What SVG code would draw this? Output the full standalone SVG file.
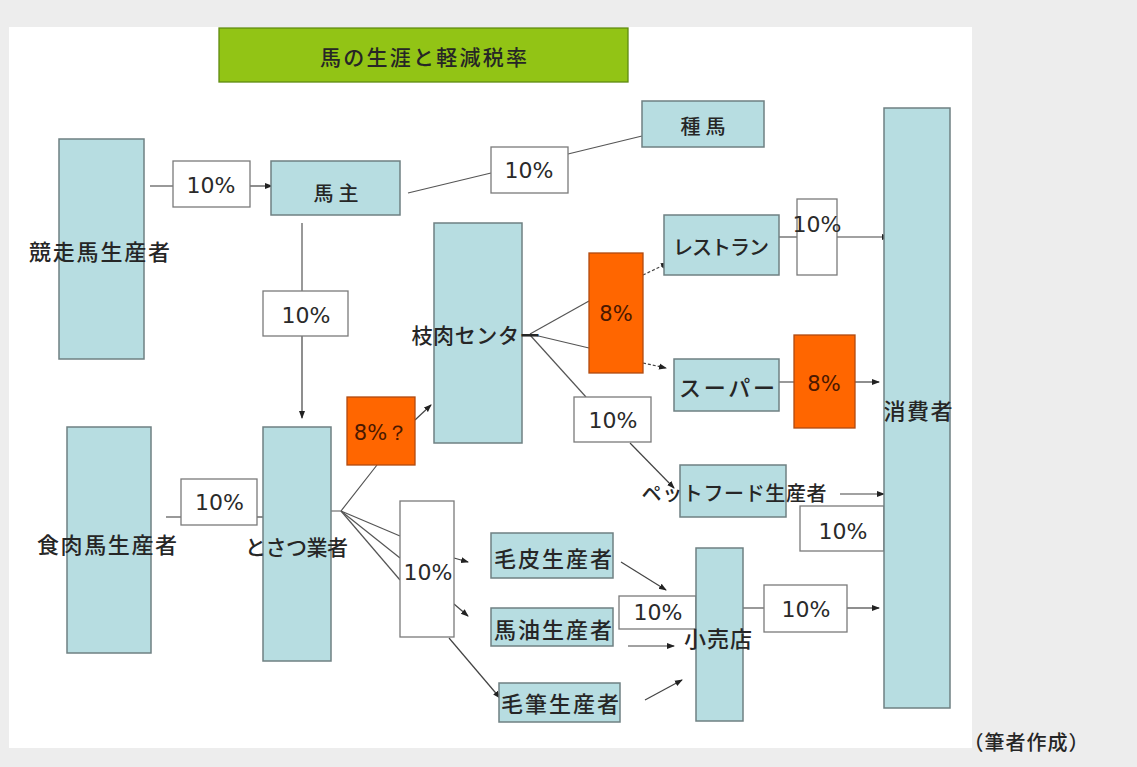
<svg xmlns="http://www.w3.org/2000/svg" width="1137" height="767" viewBox="0 0 1137 767">
<style>
.bg{fill:#ededed}
.panel{fill:#ffffff}
.node{fill:#b7dde1;stroke:#6f8082;stroke-width:1.5}
.pct{fill:#ffffff;stroke:#7a7a7a;stroke-width:1.3}
.org{fill:#ff6600;stroke:#b04a10;stroke-width:1.3}
.title{fill:#92c415;stroke:#5f8a10;stroke-width:1.3}
.jp{font-family:"Noto Sans CJK JP","Noto Sans CJK SC",sans-serif;font-weight:500;fill:#262626;dominant-baseline:central;text-anchor:middle}
.num{font-family:"DejaVu Sans","Liberation Sans",sans-serif;font-size:22px;fill:#2a2a2a;text-anchor:middle}
.onum{font-family:"DejaVu Sans","Liberation Sans",sans-serif;font-size:21px;fill:#4a1800;text-anchor:middle}
.ln{stroke:#555555;stroke-width:1.2;fill:none}
.arr{stroke:#444444;stroke-width:1.2;fill:none;marker-end:url(#ah)}
.dash{stroke-dasharray:3 2}
</style>
<defs>
<marker id="ah" markerUnits="userSpaceOnUse" markerWidth="8" markerHeight="8" viewBox="0 0 8 8" refX="7" refY="4" orient="auto">
<path d="M0,1 L8,4 L0,7 Z" fill="#222222"/>
</marker>
</defs>
<rect class="bg" x="0" y="0" width="1137" height="767"/>
<rect class="panel" x="9" y="27" width="963" height="721"/>

<g id="title">
<rect class="title" x="219" y="28" width="409" height="54"/>
<text class="jp" x="423.5" y="56" font-size="21" textLength="207" lengthAdjust="spacing">馬の生涯と軽減税率</text>
</g>

<g id="connectors">
<line class="ln" x1="150" y1="186" x2="173" y2="186"/>
<line class="arr" x1="250" y1="186" x2="272" y2="186"/>
<line class="ln" x1="408" y1="193" x2="491" y2="173"/>
<line class="ln" x1="568" y1="154" x2="642" y2="136"/>
<line class="ln" x1="302" y1="223" x2="302" y2="291"/>
<line class="arr" x1="302" y1="336" x2="302" y2="418"/>
<line class="ln" x1="166" y1="517" x2="181" y2="517"/>
<line class="arr" x1="257" y1="517" x2="288" y2="517"/>
<polyline class="ln" points="331,511 341,511 377,465"/>
<line class="arr" x1="415" y1="420" x2="431" y2="405"/>
<line class="ln" x1="341" y1="511" x2="400" y2="536"/>
<line class="ln" x1="341" y1="511" x2="400" y2="558"/>
<line class="ln" x1="341" y1="511" x2="400" y2="580"/>
<line class="arr" x1="454" y1="558" x2="468" y2="562"/>
<line class="arr" x1="454" y1="604" x2="468" y2="616"/>
<line class="arr" x1="449" y1="638" x2="500" y2="698"/>
<line class="ln" x1="530" y1="334" x2="589" y2="301"/>
<line class="ln" x1="530" y1="334" x2="589" y2="348"/>
<line class="ln" x1="530" y1="335" x2="586" y2="397"/>
<line class="arr dash" x1="643" y1="275" x2="668" y2="263"/>
<line class="arr dash" x1="643" y1="363" x2="666" y2="368"/>
<line class="ln" x1="779" y1="237" x2="797" y2="237"/>
<line class="arr" x1="837" y1="237" x2="889" y2="237"/>
<line class="ln" x1="776" y1="382" x2="794" y2="382"/>
<line class="arr" x1="855" y1="382" x2="879" y2="382"/>
<line class="arr" x1="630" y1="443" x2="674" y2="488"/>
<line class="arr" x1="840" y1="494" x2="884" y2="494"/>
<line class="arr" x1="621" y1="562" x2="666" y2="590"/>
<line class="arr" x1="628" y1="646" x2="674" y2="646"/>
<line class="arr" x1="645" y1="700" x2="682" y2="680"/>
<line class="ln" x1="743" y1="608" x2="764" y2="608"/>
<line class="arr" x1="847" y1="608" x2="879" y2="608"/>
</g>

<g id="n-keisouba">
<rect class="node" x="59" y="139" width="85" height="220"/>
<text class="jp" x="99.5" y="250" font-size="22" textLength="141" lengthAdjust="spacing">競走馬生産者</text>
</g>
<g id="p1">
<rect class="pct" x="173" y="161" width="77" height="46"/>
<text class="num" x="211" y="193">10%</text>
</g>
<g id="n-banushi">
<rect class="node" x="271" y="161" width="129" height="54"/>
<text class="jp" x="336" y="192" font-size="20" textLength="45" lengthAdjust="spacing">馬主</text>
</g>
<g id="p2">
<rect class="pct" x="491" y="147" width="77" height="46"/>
<text class="num" x="529" y="178">10%</text>
</g>
<g id="n-shuba">
<rect class="node" x="642" y="101" width="122" height="46"/>
<text class="jp" x="703" y="125" font-size="20" textLength="45" lengthAdjust="spacing">種馬</text>
</g>
<g id="p3">
<rect class="pct" x="263" y="291" width="85" height="45"/>
<text class="num" x="306" y="323">10%</text>
</g>
<g id="n-shokuniku">
<rect class="node" x="67" y="427" width="84" height="226"/>
<text class="jp" x="107" y="543" font-size="22" textLength="140" lengthAdjust="spacing">食肉馬生産者</text>
</g>
<g id="p4">
<rect class="pct" x="181" y="479" width="76" height="46"/>
<text class="num" x="219.5" y="510">10%</text>
</g>
<g id="n-tosatsu">
<rect class="node" x="263" y="427" width="68" height="234"/>
<text class="jp" x="296.5" y="546" font-size="21" textLength="103" lengthAdjust="spacing">とさつ業者</text>
</g>
<g id="o1">
<rect class="org" x="347" y="397" width="68" height="68"/>
<text class="onum" x="381" y="440">8%？</text>
</g>
<g id="n-edaniku">
<rect class="node" x="434" y="223" width="88" height="220"/>
<text class="jp" x="476" y="334" font-size="21" textLength="129" lengthAdjust="spacing">枝肉センター</text>
</g>
<g id="p5">
<rect class="pct" x="400" y="501" width="54" height="136"/>
<text class="num" x="428" y="580">10%</text>
</g>
<g id="o2">
<rect class="org" x="589" y="253" width="54" height="120"/>
<text class="onum" x="616" y="321">8%</text>
</g>
<g id="n-restaurant">
<rect class="node" x="664" y="215" width="115" height="60"/>
<text class="jp" x="721" y="246" font-size="20" textLength="96" lengthAdjust="spacing">レストラン</text>
</g>
<g id="p7">
<rect class="pct" x="797" y="199" width="40" height="76"/>
<text class="num" x="817" y="232">10%</text>
</g>
<g id="n-super">
<rect class="node" x="674" y="359" width="105" height="52"/>
<text class="jp" x="727" y="386" font-size="22" textLength="96" lengthAdjust="spacing">スーパー</text>
</g>
<g id="o3">
<rect class="org" x="794" y="335" width="61" height="93"/>
<text class="onum" x="824" y="391">8%</text>
</g>
<g id="p6">
<rect class="pct" x="574" y="397" width="77" height="45"/>
<text class="num" x="613" y="428">10%</text>
</g>
<g id="n-petfood">
<rect class="node" x="680" y="465" width="106" height="52"/>
<text class="jp" x="734" y="492" font-size="20" textLength="185" lengthAdjust="spacing">ペットフード生産者</text>
</g>
<g id="p8">
<rect class="pct" x="800" y="506" width="84" height="45"/>
<text class="num" x="843" y="539">10%</text>
</g>
<g id="n-shouhisha">
<rect class="node" x="884" y="108" width="66" height="600"/>
<text class="jp" x="918" y="409" font-size="22" textLength="69" lengthAdjust="spacing">消費者</text>
</g>
<g id="n-kegawa">
<rect class="node" x="491" y="533" width="122" height="45"/>
<text class="jp" x="553" y="557" font-size="22" textLength="118" lengthAdjust="spacing">毛皮生産者</text>
</g>
<g id="n-bayu">
<rect class="node" x="491" y="608" width="122" height="38"/>
<text class="jp" x="553" y="628" font-size="22" textLength="118" lengthAdjust="spacing">馬油生産者</text>
</g>
<g id="n-kefude">
<rect class="node" x="499" y="683" width="121" height="39"/>
<text class="jp" x="560" y="702" font-size="22" textLength="118" lengthAdjust="spacing">毛筆生産者</text>
</g>
<g id="p9">
<rect class="pct" x="619" y="596" width="77" height="33"/>
<text class="num" x="658" y="620">10%</text>
</g>
<g id="n-kouriten">
<rect class="node" x="696" y="548" width="47" height="173"/>
<text class="jp" x="718" y="637" font-size="22" textLength="68" lengthAdjust="spacing">小売店</text>
</g>
<g id="p10">
<rect class="pct" x="764" y="585" width="83" height="47"/>
<text class="num" x="806" y="617">10%</text>
</g>

<text class="jp" x="1026" y="741" font-size="20" textLength="125" lengthAdjust="spacing">（筆者作成）</text>
</svg>
